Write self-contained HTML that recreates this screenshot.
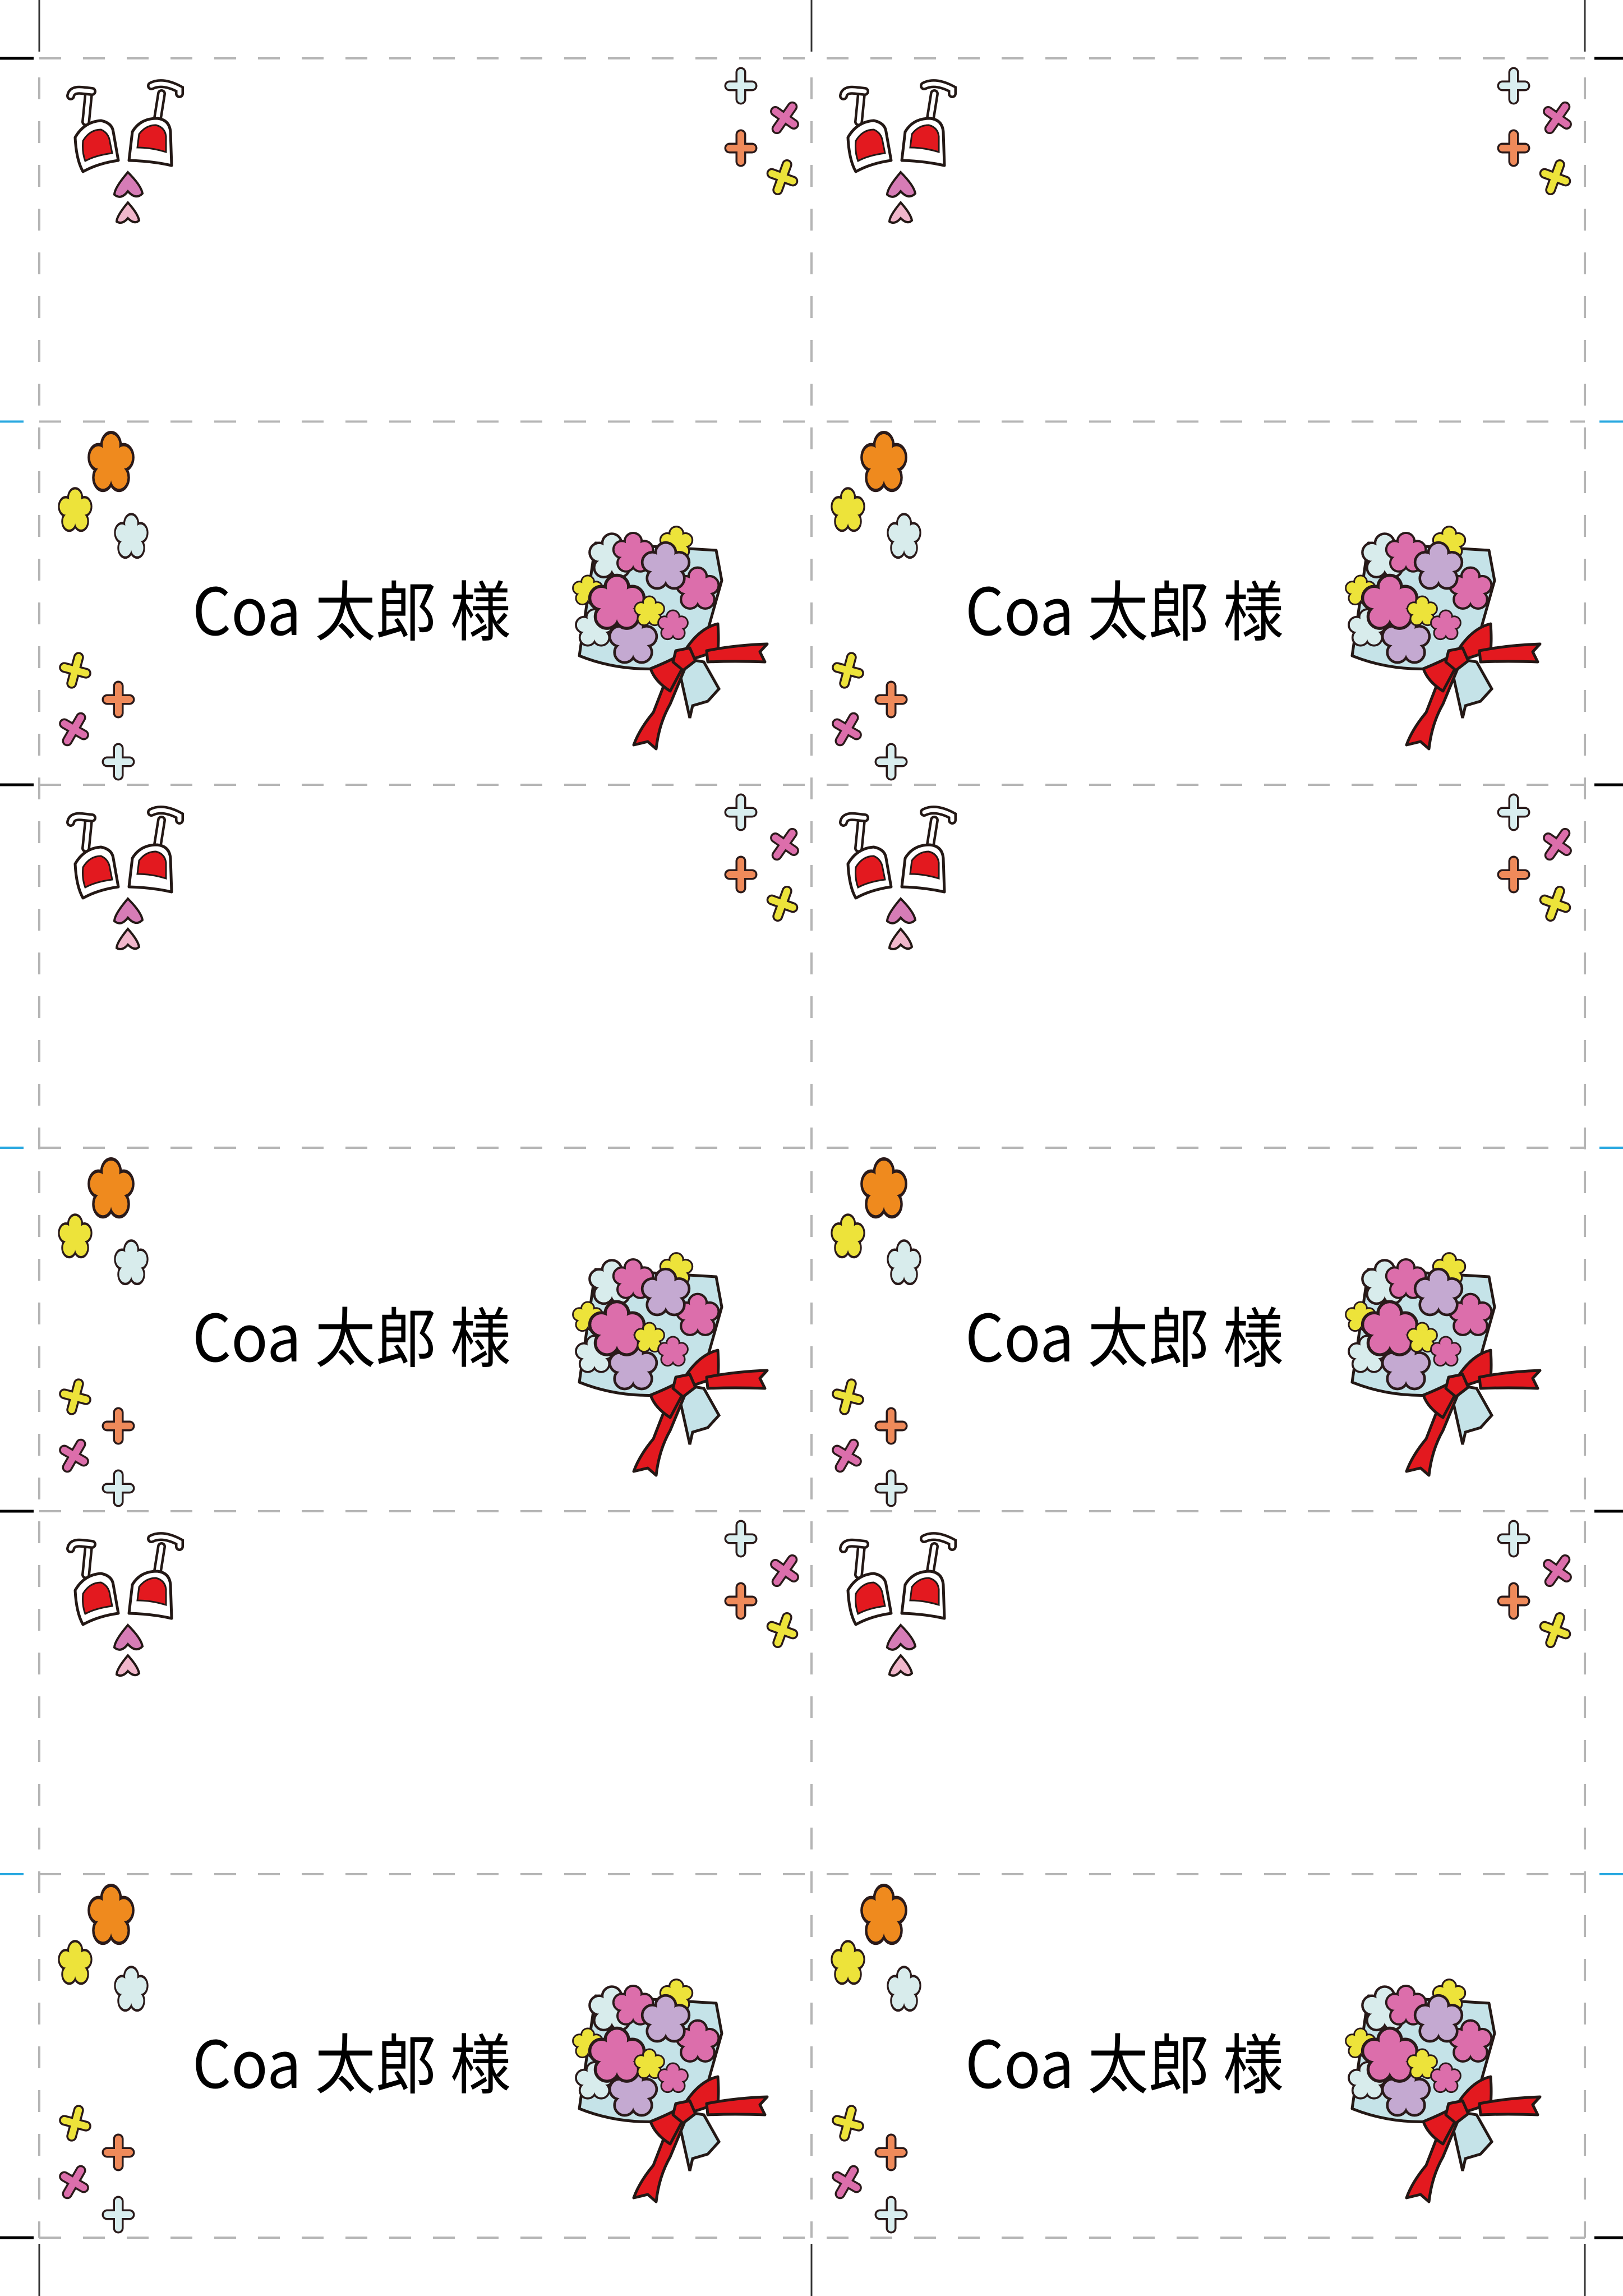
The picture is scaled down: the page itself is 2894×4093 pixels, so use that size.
<!DOCTYPE html>
<html><head><meta charset="utf-8"><style>
html,body{margin:0;padding:0;background:#fff;}
svg{display:block;}
</style></head><body>
<svg width="2894" height="4093" viewBox="0 0 2894 4093" xmlns="http://www.w3.org/2000/svg">
<defs>
  <g id="cross">
    <path d="M0,-24V24M-20,0H20" stroke="#2a1a1a" stroke-width="19" stroke-linecap="round" fill="none"/>
    <path d="M0,-24V24M-20,0H20" stroke="currentColor" stroke-width="12" stroke-linecap="round" fill="none"/>
  </g>
  <g id="glasses">
    <path d="M38,22 L33,72" stroke="#231815" stroke-width="16" stroke-linecap="round"/>
    <path d="M38,22 L33,72" stroke="#fff" stroke-width="7" stroke-linecap="round"/>
    <path d="M6,26 Q8,14 26,16 L44,18" stroke="#231815" stroke-width="16" stroke-linecap="round" fill="none"/>
    <path d="M6,26 Q8,14 26,16 L44,18" stroke="#fff" stroke-width="7" stroke-linecap="round" fill="none"/>
    <path d="M14,100 Q30,72 60,70 Q80,74 82,90 L91,141 Q55,146 28,161 Q16,140 14,100 Z" fill="#fff" stroke="#231815" stroke-width="5" stroke-linejoin="round"/>
    <path d="M28,106 Q40,86 60,86 Q74,92 76,108 L80,128 Q50,132 32,142 Q26,126 28,106 Z" fill="#e3191f" stroke="#231815" stroke-width="3"/>
    <path d="M168,22 L160,72" stroke="#231815" stroke-width="16" stroke-linecap="round"/>
    <path d="M168,22 L160,72" stroke="#fff" stroke-width="7" stroke-linecap="round"/>
    <path d="M150,8 Q170,-2 200,14 L200,22" stroke="#231815" stroke-width="16" stroke-linecap="round" fill="none"/>
    <path d="M150,8 Q170,-2 200,14 L200,22" stroke="#fff" stroke-width="7" stroke-linecap="round" fill="none"/>
    <path d="M116,90 Q130,66 160,66 Q182,68 184,90 L186,150 Q150,142 110,141 Z" fill="#fff" stroke="#231815" stroke-width="5" stroke-linejoin="round"/>
    <path d="M128,94 Q140,78 158,78 Q174,82 176,98 L176,126 Q150,118 125,118 Z" fill="#e3191f" stroke="#231815" stroke-width="3"/>
    <path d="M108,162 Q84,190 84,202 Q96,212 108,196 Q122,212 134,200 Q132,186 108,162 Z" fill="#d67cb6" stroke="#231815" stroke-width="4"/>
    <path d="M108,216 Q88,240 88,250 Q98,256 108,244 Q120,256 128,248 Q126,236 108,216 Z" fill="#f1b7cb" stroke="#231815" stroke-width="4"/>
  </g>
  <g id="oddcard">
    <use href="#glasses" x="120" y="145"/>
    <use href="#cross" x="1321" y="153" style="color:#d9eeef"/>
    <use href="#cross" x="1399" y="210" style="color:#dc6eab" transform="rotate(35 1399 210)"/>
    <use href="#cross" x="1321" y="264" style="color:#ef8a5a"/>
    <use href="#cross" x="1395" y="316" style="color:#ede33a" transform="rotate(20 1395 316)"/>
  </g>
  <g id="fl">
    <g stroke="#2a1a1a" stroke-width="5">
      <circle cx="0" cy="-26" r="19"/><circle cx="25" cy="-8" r="19"/><circle cx="16" cy="22" r="19"/>
      <circle cx="-16" cy="22" r="19"/><circle cx="-25" cy="-8" r="19"/>
    </g>
    <g stroke="none">
      <circle cx="0" cy="-26" r="16.5"/><circle cx="25" cy="-8" r="16.5"/><circle cx="16" cy="22" r="16.5"/>
      <circle cx="-16" cy="22" r="16.5"/><circle cx="-25" cy="-8" r="16.5"/><circle cx="0" cy="0" r="24"/>
    </g>
  </g>
  <g id="bouquet">
    <path d="M1033,1169 L1062,968 L1277,981 L1287,1035 L1263,1120 L1200,1190 Q1110,1200 1033,1169 Z" fill="#c5e3e8" stroke="#231815" stroke-width="5" stroke-linejoin="round"/>
    <g fill="#c5e3e8" stroke="#231815" stroke-width="5"><path d="M1215,1173 L1255,1180 L1282,1228 L1262,1250 L1235,1258 L1230,1280 L1210,1190 Z"/></g>
    <use href="#fl" fill="#d8ecec" transform="translate(1091 992) scale(0.9)"/>
    <use href="#fl" fill="#dc6eab" transform="translate(1244 1050) scale(0.85)"/>
    <use href="#fl" fill="#dc6eab" transform="translate(1129 986) scale(0.8)"/>
    <use href="#fl" fill="#ede33a" transform="translate(1206 968) scale(0.65)"/>
    <use href="#fl" fill="#c4a9d1" transform="translate(1187 1010) scale(0.95)"/>
    <use href="#fl" fill="#ede33a" transform="translate(1048 1053) scale(0.6)"/>
    <use href="#fl" fill="#d8ecec" transform="translate(1060 1120) scale(0.75)"/>
    <use href="#fl" fill="#c4a9d1" transform="translate(1129 1142) scale(0.95)"/>
    <use href="#fl" fill="#dc6eab" transform="translate(1100 1075) scale(1.1)"/>
    <use href="#fl" fill="#ede33a" transform="translate(1158 1090) scale(0.6)"/>
    <use href="#fl" fill="#dc6eab" transform="translate(1200 1115) scale(0.6)"/>
    <g fill="#e3191f" stroke="#231815" stroke-width="5" stroke-linejoin="round">
      <path d="M1200,1180 L1165,1270 Q1140,1300 1130,1328 L1155,1322 L1170,1335 Q1175,1290 1195,1255 L1222,1190 Z"/>
      <path d="M1212,1168 Q1190,1180 1160,1192 Q1168,1215 1195,1232 L1220,1185 Z"/>
      <path d="M1218,1165 Q1245,1120 1280,1112 Q1282,1140 1280,1160 Q1250,1170 1225,1178 Z"/>
      <path d="M1260,1160 Q1310,1150 1368,1148 L1355,1162 L1364,1180 Q1310,1178 1262,1180 Z"/>
      <path d="M1205,1160 L1230,1155 L1240,1178 L1218,1195 L1200,1180 Z"/>
    </g>
  </g>
  <g id="evencard">
    <use href="#fl" fill="#ef8a1e" transform="translate(198 825) scale(0.9 1.2)"/>
    <use href="#fl" fill="#ede33a" transform="translate(134 910) scale(0.66 0.88)"/>
    <use href="#fl" fill="#d8ecec" transform="translate(234 957) scale(0.66 0.9)"/>
    <use href="#cross" x="134" y="1195" style="color:#ede33a" transform="rotate(15 134 1195)"/>
    <use href="#cross" x="211" y="1247" style="color:#ef8a5a"/>
    <use href="#cross" x="132" y="1300" style="color:#dc6eab" transform="rotate(30 132 1300)"/>
    <use href="#cross" x="211" y="1358" style="color:#d9eeef"/>
    <text x="343" y="1132" font-family="'Noto Sans CJK JP','Liberation Sans',sans-serif" font-size="116" fill="#000" textLength="568" lengthAdjust="spacingAndGlyphs">Coa 太郎 様</text>
    <use href="#bouquet"/>
  </g>
</defs>

<use href="#oddcard"/>
<use href="#oddcard" x="1378"/>
<use href="#evencard"/>
<use href="#evencard" x="1378"/>
<use href="#oddcard" y="1295"/>
<use href="#oddcard" x="1378" y="1295"/>
<use href="#evencard" y="1295"/>
<use href="#evencard" x="1378" y="1295"/>
<use href="#oddcard" y="2590"/>
<use href="#oddcard" x="1378" y="2590"/>
<use href="#evencard" y="2590"/>
<use href="#evencard" x="1378" y="2590"/>

<g stroke="#b5b5b5" stroke-width="4" stroke-dasharray="39 39" fill="none">
  <path d="M70,104H2826M70,751.5H2826M70,1399H2826M70,2046H2826M70,2694H2826M70,3341H2826M70,3989H2826"/>
  <path d="M70,138V3989M1447,138V3989M2826,138V3989"/>
</g>
<g stroke="#333" stroke-width="3">
  <path d="M70,0V92M1447,0V92M2826,0V92M70,4000V4093M1447,4000V4093M2826,4000V4093"/>
</g>
<g stroke="#000" stroke-width="5">
  <path d="M0,104H60M0,1399H60M0,2694H60M0,3989H60M2843,104H2894M2843,1399H2894M2843,2694H2894M2843,3989H2894"/>
</g>
<g stroke="#29a8e0" stroke-width="4">
  <path d="M0,751.5H42M0,2046H42M0,3341H42M2852,751.5H2894M2852,2046H2894M2852,3341H2894"/>
</g>
</svg>
</body></html>
